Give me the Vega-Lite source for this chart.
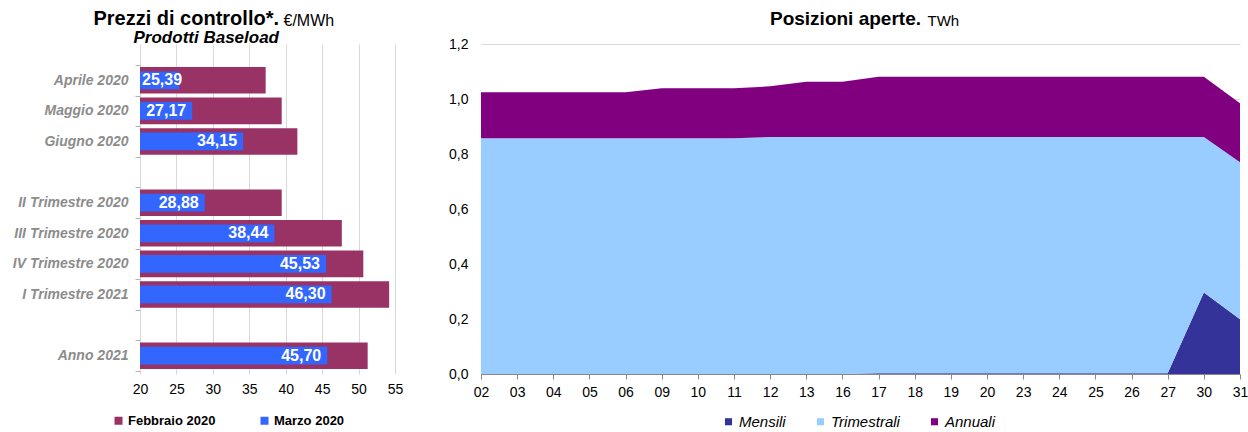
{
  "$schema": "https://vega.github.io/schema/vega-lite/v6.json",
  "padding": {"left": 12, "top": 9, "right": 0, "bottom": 0},
  "config": {
    "font": "Liberation Sans",
    "view": {"stroke": null},
    "locale": {"number": {"decimal": ",", "thousands": ".", "grouping": [3], "currency": ["", " €"]}}
  },
  "spacing": 45,
  "resolve": {"scale": {"color": "independent", "x": "independent", "y": "independent"}, "legend": {"color": "independent"}},
  "hconcat": [
    {
      "width": 255,
      "height": 330,
      "title": {
        "text": "Prezzi di controllo*.",
        "subtitle": "Prodotti Baseload",
        "anchor": "start",
        "frame": "group",
        "align": "right",
        "dx": 139,
        "offset": -34,
        "fontSize": 20,
        "fontWeight": "bold",
        "color": "#000000",
        "subtitleFontSize": 17,
        "subtitleFontWeight": "bold",
        "subtitleFontStyle": "italic",
        "subtitleColor": "#000000",
        "subtitlePadding": 1
      },
      "data": {"values": [
        {"prodotto": "Aprile 2020", "febbraio": 37.25, "marzo": 25.39},
        {"prodotto": "Maggio 2020", "febbraio": 39.45, "marzo": 27.17},
        {"prodotto": "Giugno 2020", "febbraio": 41.6, "marzo": 34.15},
        {"prodotto": "II Trimestre 2020", "febbraio": 39.45, "marzo": 28.88},
        {"prodotto": "III Trimestre 2020", "febbraio": 47.7, "marzo": 38.44},
        {"prodotto": "IV Trimestre 2020", "febbraio": 50.65, "marzo": 45.53},
        {"prodotto": "I Trimestre 2021", "febbraio": 54.2, "marzo": 46.30},
        {"prodotto": "Anno 2021", "febbraio": 51.25, "marzo": 45.70}
      ]},
      "encoding": {
        "y": {
          "field": "prodotto",
          "type": "nominal",
          "scale": {"domain": ["Aprile 2020", "Maggio 2020", "Giugno 2020", " ", "II Trimestre 2020", "III Trimestre 2020", "IV Trimestre 2020", "I Trimestre 2021", "  ", "Anno 2021"], "paddingInner": 0, "paddingOuter": 0.392, "align": 0.875},
          "axis": {
            "title": "€/MWh",
            "titleAngle": 0,
            "titleAlign": "left",
            "titleBaseline": "alphabetic",
            "titleX": 143,
            "titleY": -19,
            "titleFontSize": 16,
            "titleFontWeight": "normal",
            "titleColor": "#000000",
            "labelFontSize": 14,
            "labelFontWeight": "bold",
            "labelFontStyle": "italic",
            "labelColor": "#8c8c8c",
            "labelPadding": 7,
            "tickBand": "extent",
            "tickSize": 5,
            "tickColor": "#b0b0b0",
            "domain": false,
            "grid": false
          }
        }
      },
      "layer": [
        {
          "mark": {"type": "bar", "height": {"band": 0.87}},
          "encoding": {
            "x": {
              "field": "febbraio",
              "type": "quantitative",
              "scale": {"domain": [20, 55], "zero": false, "nice": false},
              "axis": {"title": null, "values": [20, 25, 30, 35, 40, 45, 50, 55], "labelOverlap": false, "labelFlush": false, "grid": true, "gridColor": "#d9d9d9", "domain": false, "ticks": false, "labelFontSize": 14, "labelColor": "#000000", "labelPadding": 8}
            },
            "x2": {"datum": 20},
            "color": {
              "datum": "Febbraio 2020",
              "type": "nominal",
              "scale": {"domain": ["Febbraio 2020", "Marzo 2020"], "range": ["#993366", "#3366FF"]},
              "legend": {
                "title": null,
                "orient": "none",
                "legendX": -28,
                "legendY": 370,
                "direction": "horizontal",
                "symbolType": "square",
                "symbolSize": 64,
                "labelFontSize": 13,
                "labelFontWeight": "bold",
                "labelColor": "#000000",
                "columnPadding": 42,
                "labelOffset": 3
              }
            }
          }
        },
        {
          "mark": {"type": "bar", "height": {"band": 0.58}},
          "encoding": {
            "x": {
              "field": "marzo",
              "type": "quantitative",
              "axis": {"title": null, "values": [20, 25, 30, 35, 40, 45, 50, 55], "labelOverlap": false, "labelFlush": false, "grid": true, "gridColor": "#d9d9d9", "domain": false, "ticks": false, "labelFontSize": 14, "labelColor": "#000000", "labelPadding": 8}
            },
            "x2": {"datum": 20},
            "color": {"datum": "Marzo 2020", "type": "nominal"}
          }
        },
        {
          "transform": [{"filter": "datum.marzo >= 26"}],
          "mark": {"type": "text", "align": "right", "baseline": "middle", "dx": -6, "color": "#ffffff", "fontSize": 16, "fontWeight": "bold"},
          "encoding": {
            "x": {
              "field": "marzo",
              "type": "quantitative",
              "axis": {"title": null, "values": [20, 25, 30, 35, 40, 45, 50, 55], "labelOverlap": false, "labelFlush": false, "grid": true, "gridColor": "#d9d9d9", "domain": false, "ticks": false, "labelFontSize": 14, "labelColor": "#000000", "labelPadding": 8}
            },
            "text": {"field": "marzo", "type": "quantitative", "format": ".2f"}
          }
        },
        {
          "transform": [{"filter": "datum.marzo < 26"}],
          "mark": {"type": "text", "align": "left", "baseline": "middle", "dx": 2, "color": "#ffffff", "fontSize": 16, "fontWeight": "bold"},
          "encoding": {
            "x": {
              "datum": 20,
              "type": "quantitative",
              "axis": {"title": null, "values": [20, 25, 30, 35, 40, 45, 50, 55], "labelOverlap": false, "labelFlush": false, "grid": true, "gridColor": "#d9d9d9", "domain": false, "ticks": false, "labelFontSize": 14, "labelColor": "#000000", "labelPadding": 8}
            },
            "text": {"field": "marzo", "type": "quantitative", "format": ".2f"}
          }
        }
      ]
    },
    {
      "width": 759,
      "height": 330,
      "title": {
        "text": "Posizioni aperte.",
        "anchor": "start",
        "frame": "group",
        "dx": 289,
        "offset": -16,
        "fontSize": 19,
        "fontWeight": "bold",
        "color": "#000000"
      },
      "data": {"values": [
        {"g": "02", "tipo": "Mensili", "valore": 0, "ord": 1}, {"g": "02", "tipo": "Trimestrali", "valore": 0.857, "ord": 2}, {"g": "02", "tipo": "Annuali", "valore": 0.168, "ord": 3},
        {"g": "03", "tipo": "Mensili", "valore": 0, "ord": 1}, {"g": "03", "tipo": "Trimestrali", "valore": 0.857, "ord": 2}, {"g": "03", "tipo": "Annuali", "valore": 0.168, "ord": 3},
        {"g": "04", "tipo": "Mensili", "valore": 0, "ord": 1}, {"g": "04", "tipo": "Trimestrali", "valore": 0.857, "ord": 2}, {"g": "04", "tipo": "Annuali", "valore": 0.168, "ord": 3},
        {"g": "05", "tipo": "Mensili", "valore": 0, "ord": 1}, {"g": "05", "tipo": "Trimestrali", "valore": 0.857, "ord": 2}, {"g": "05", "tipo": "Annuali", "valore": 0.168, "ord": 3},
        {"g": "06", "tipo": "Mensili", "valore": 0, "ord": 1}, {"g": "06", "tipo": "Trimestrali", "valore": 0.857, "ord": 2}, {"g": "06", "tipo": "Annuali", "valore": 0.168, "ord": 3},
        {"g": "09", "tipo": "Mensili", "valore": 0, "ord": 1}, {"g": "09", "tipo": "Trimestrali", "valore": 0.857, "ord": 2}, {"g": "09", "tipo": "Annuali", "valore": 0.182, "ord": 3},
        {"g": "10", "tipo": "Mensili", "valore": 0, "ord": 1}, {"g": "10", "tipo": "Trimestrali", "valore": 0.857, "ord": 2}, {"g": "10", "tipo": "Annuali", "valore": 0.182, "ord": 3},
        {"g": "11", "tipo": "Mensili", "valore": 0, "ord": 1}, {"g": "11", "tipo": "Trimestrali", "valore": 0.857, "ord": 2}, {"g": "11", "tipo": "Annuali", "valore": 0.182, "ord": 3},
        {"g": "12", "tipo": "Mensili", "valore": 0, "ord": 1}, {"g": "12", "tipo": "Trimestrali", "valore": 0.862, "ord": 2}, {"g": "12", "tipo": "Annuali", "valore": 0.184, "ord": 3},
        {"g": "13", "tipo": "Mensili", "valore": 0, "ord": 1}, {"g": "13", "tipo": "Trimestrali", "valore": 0.862, "ord": 2}, {"g": "13", "tipo": "Annuali", "valore": 0.201, "ord": 3},
        {"g": "16", "tipo": "Mensili", "valore": 0, "ord": 1}, {"g": "16", "tipo": "Trimestrali", "valore": 0.862, "ord": 2}, {"g": "16", "tipo": "Annuali", "valore": 0.201, "ord": 3},
        {"g": "17", "tipo": "Mensili", "valore": 0.003, "ord": 1}, {"g": "17", "tipo": "Trimestrali", "valore": 0.859, "ord": 2}, {"g": "17", "tipo": "Annuali", "valore": 0.219, "ord": 3},
        {"g": "18", "tipo": "Mensili", "valore": 0.003, "ord": 1}, {"g": "18", "tipo": "Trimestrali", "valore": 0.859, "ord": 2}, {"g": "18", "tipo": "Annuali", "valore": 0.219, "ord": 3},
        {"g": "19", "tipo": "Mensili", "valore": 0.003, "ord": 1}, {"g": "19", "tipo": "Trimestrali", "valore": 0.859, "ord": 2}, {"g": "19", "tipo": "Annuali", "valore": 0.219, "ord": 3},
        {"g": "20", "tipo": "Mensili", "valore": 0.003, "ord": 1}, {"g": "20", "tipo": "Trimestrali", "valore": 0.859, "ord": 2}, {"g": "20", "tipo": "Annuali", "valore": 0.219, "ord": 3},
        {"g": "23", "tipo": "Mensili", "valore": 0.003, "ord": 1}, {"g": "23", "tipo": "Trimestrali", "valore": 0.859, "ord": 2}, {"g": "23", "tipo": "Annuali", "valore": 0.219, "ord": 3},
        {"g": "24", "tipo": "Mensili", "valore": 0.003, "ord": 1}, {"g": "24", "tipo": "Trimestrali", "valore": 0.859, "ord": 2}, {"g": "24", "tipo": "Annuali", "valore": 0.219, "ord": 3},
        {"g": "25", "tipo": "Mensili", "valore": 0.003, "ord": 1}, {"g": "25", "tipo": "Trimestrali", "valore": 0.859, "ord": 2}, {"g": "25", "tipo": "Annuali", "valore": 0.219, "ord": 3},
        {"g": "26", "tipo": "Mensili", "valore": 0.003, "ord": 1}, {"g": "26", "tipo": "Trimestrali", "valore": 0.859, "ord": 2}, {"g": "26", "tipo": "Annuali", "valore": 0.219, "ord": 3},
        {"g": "27", "tipo": "Mensili", "valore": 0.003, "ord": 1}, {"g": "27", "tipo": "Trimestrali", "valore": 0.859, "ord": 2}, {"g": "27", "tipo": "Annuali", "valore": 0.219, "ord": 3},
        {"g": "30", "tipo": "Mensili", "valore": 0.296, "ord": 1}, {"g": "30", "tipo": "Trimestrali", "valore": 0.566, "ord": 2}, {"g": "30", "tipo": "Annuali", "valore": 0.219, "ord": 3},
        {"g": "31", "tipo": "Mensili", "valore": 0.199, "ord": 1}, {"g": "31", "tipo": "Trimestrali", "valore": 0.571, "ord": 2}, {"g": "31", "tipo": "Annuali", "valore": 0.215, "ord": 3}
      ]},
      "mark": {"type": "area"},
      "encoding": {
        "x": {
          "field": "g",
          "type": "ordinal",
          "scale": {"type": "point", "padding": 0},
          "axis": {
            "title": null,
            "labelAngle": 0,
            "labelFontSize": 14,
            "labelColor": "#000000",
            "labelPadding": 6,
            "domainColor": "#888888",
            "tickColor": "#888888",
            "tickSize": 5,
            "grid": false
          }
        },
        "y": {
          "field": "valore",
          "type": "quantitative",
          "stack": "zero",
          "scale": {"domain": [0, 1.2], "nice": false},
          "axis": {
            "title": "TWh",
            "titleAngle": 0,
            "titleAlign": "left",
            "titleBaseline": "alphabetic",
            "titleX": 446,
            "titleY": -19,
            "titleFontSize": 15,
            "titleFontWeight": "normal",
            "titleColor": "#000000",
            "values": [0, 0.2, 0.4, 0.6, 0.8, 1.0, 1.2],
            "format": ".1f",
            "grid": true,
            "gridColor": "#d9d9d9",
            "domain": false,
            "ticks": false,
            "labelFontSize": 14,
            "labelColor": "#000000",
            "labelPadding": 13
          }
        },
        "order": {"field": "ord", "type": "quantitative", "sort": "ascending"},
        "color": {
          "field": "tipo",
          "type": "nominal",
          "sort": ["Mensili", "Trimestrali", "Annuali"],
          "scale": {"domain": ["Mensili", "Trimestrali", "Annuali"], "range": ["#333399", "#99CCFF", "#800080"]},
          "legend": {
            "title": null,
            "orient": "none",
            "legendX": 240,
            "legendY": 370,
            "direction": "horizontal",
            "symbolType": "square",
            "symbolSize": 50,
            "labelFontSize": 15,
            "labelFontStyle": "italic",
            "labelColor": "#000000",
            "columnPadding": 27,
            "labelOffset": 3
          }
        }
      }
    }
  ]
}
